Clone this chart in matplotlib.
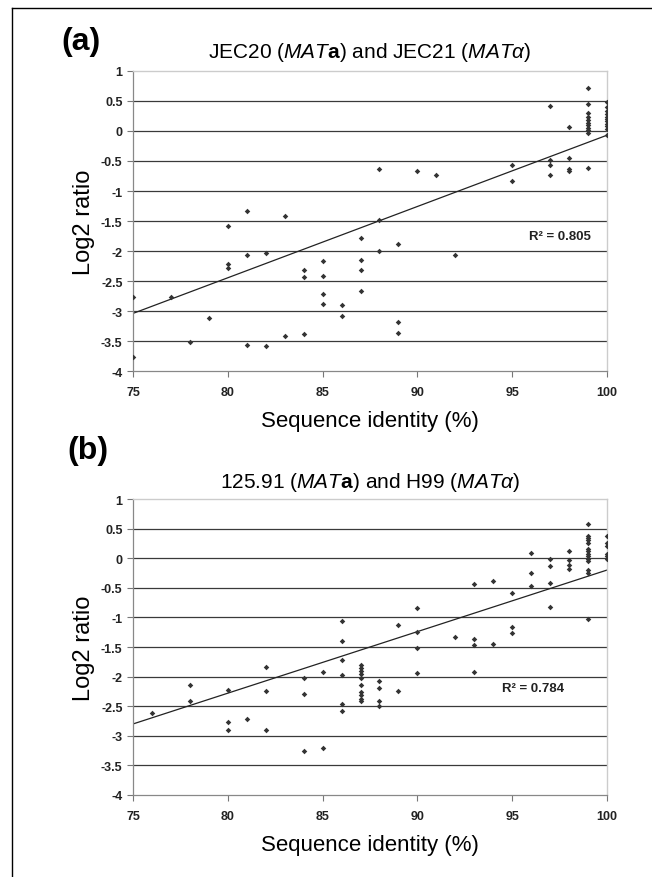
import numpy as np
import matplotlib

matplotlib.use("Agg")
import matplotlib.pyplot as plt
from matplotlib.lines import Line2D

plt.rcParams["font.family"] = ["Liberation Sans", "DejaVu Sans"]
plt.rcParams["mathtext.fontset"] = "custom"
plt.rcParams["mathtext.rm"] = "Liberation Sans"
plt.rcParams["mathtext.it"] = "Liberation Sans:italic"
plt.rcParams["mathtext.bf"] = "Liberation Sans:bold"

# ---- panel (a): JEC20 vs JEC21 ----
a_x = [75, 75, 77, 78, 79,
       80, 80, 80, 81, 81, 81, 82, 82, 83, 83,
       84, 84, 84, 85, 85, 85, 85, 86, 86,
       87, 87, 87, 87, 88, 88, 88, 89, 89, 89,
       90, 91, 92, 95, 95,
       97, 97, 97, 97, 98, 98, 98, 98,
       99, 99, 99, 99, 99, 99, 99, 99, 99, 99, 99,
       100, 100, 100, 100, 100, 100, 100, 100, 100, 100, 100]
a_y = [-2.77, -3.77, -2.77, -3.51, -3.12,
       -1.59, -2.21, -2.29, -1.33, -2.06, -3.57, -2.04, -3.58, -1.41, -3.41,
       -2.32, -2.44, -3.38, -2.16, -2.42, -2.72, -2.89, -2.90, -3.09,
       -1.79, -2.15, -2.32, -2.67, -0.63, -1.49, -2.00, -1.88, -3.19, -3.36,
       -0.67, -0.73, -2.06, -0.57, -0.83,
       0.42, -0.49, -0.57, -0.73, 0.06, -0.45, -0.64, -0.67,
       0.71, 0.45, 0.30, 0.24, 0.19, 0.14, 0.10, 0.05, 0.02, -0.04, -0.61,
       0.48, 0.40, 0.33, 0.28, 0.24, 0.20, 0.16, 0.12, 0.08, 0.03, -0.07]
a_fit = [-3.04, -0.07]   # trend line value at x=75 and x=100
a_r2 = "R² = 0.805"

# ---- panel (b): 125.91 vs H99 ----
b_x = [76, 78, 78, 80, 80, 80, 81, 82, 82, 82, 84, 84, 84, 85, 85,
       86, 86, 86, 86, 86, 86,
       87, 87, 87, 87, 87, 87, 87, 87, 87, 87,
       88, 88, 88, 88, 89, 89, 90, 90, 90, 90,
       92, 93, 93, 93, 93, 94, 94, 95, 95, 95,
       96, 96, 96, 97, 97, 97, 97, 98, 98, 98, 98,
       99, 99, 99, 99, 99, 99, 99, 99, 99, 99, 99, 99, 99, 99,
       100, 100, 100, 100, 100, 100]
b_y = [-2.61, -2.14, -2.42, -2.22, -2.77, -2.91, -2.71, -1.84, -2.24, -2.91,
       -2.03, -2.30, -3.26, -1.93, -3.21,
       -1.06, -1.40, -1.72, -1.98, -2.47, -2.58,
       -1.81, -1.86, -1.91, -1.96, -2.03, -2.15, -2.26, -2.31, -2.37, -2.41,
       -2.08, -2.19, -2.42, -2.49, -1.13, -2.25, -0.84, -1.25, -1.52, -1.94,
       -1.33, -0.44, -1.36, -1.46, -1.92, -0.38, -1.45, -0.59, -1.17, -1.26,
       0.09, -0.25, -0.47, -0.01, -0.13, -0.42, -0.83, 0.12, -0.03, -0.11, -0.18,
       0.57, 0.38, 0.34, 0.30, 0.25, 0.16, 0.12, 0.07, 0.03, -0.01, -0.05,
       -0.20, -0.25, -1.03,
       0.37, 0.25, 0.21, 0.07, 0.03, -0.02]
b_fit = [-2.80, -0.20]
b_r2 = "R² = 0.784"

x_ticks = [75, 80, 85, 90, 95, 100]
y_ticks = [1, 0.5, 0, -0.5, -1, -1.5, -2, -2.5, -3, -3.5, -4]


def draw_panel(ax, xs, ys, fit, r2, r2_pos):
    for v in y_ticks[1:-1]:
        ax.axhline(v, color="#3a3a3a", lw=0.9, zorder=1)
    ax.scatter(xs, ys, s=8, marker="D", color="#333333", zorder=3, linewidths=0)
    ax.plot([75, 100], fit, color="#222222", lw=0.9, zorder=2)
    ax.text(r2_pos[0], r2_pos[1], r2, fontsize=9.5, fontweight="bold",
            ha="center", va="center", color="#222222")
    ax.set_xlim(75, 100)
    ax.set_ylim(-4, 1)
    ax.set_xticks(x_ticks)
    ax.set_yticks(y_ticks)
    ax.set_yticklabels([f"{v:g}" for v in y_ticks])
    ax.tick_params(axis="both", labelsize=9, length=4, width=0.8,
                   color="#777777", direction="out", pad=3.5)
    ax.tick_params(axis="x", pad=6.5)
    for lab in ax.get_xticklabels() + ax.get_yticklabels():
        lab.set_fontweight("bold")
        lab.set_color("#222222")
    for side in ["top", "right"]:
        ax.spines[side].set_color("#cccccc")
        ax.spines[side].set_linewidth(1.0)
    for side in ["left", "bottom"]:
        ax.spines[side].set_color("#888888")
        ax.spines[side].set_linewidth(0.9)
    ax.set_xlabel("Sequence identity (%)", fontsize=16, labelpad=9)
    ax.set_ylabel("Log2 ratio", fontsize=17, labelpad=4)


fig = plt.figure(figsize=(6.52, 8.78), dpi=100)
ax_a = fig.add_axes([0.204, 0.5763, 0.727, 0.3417])
ax_b = fig.add_axes([0.204, 0.0934, 0.727, 0.3371])

draw_panel(ax_a, a_x, a_y, a_fit, a_r2, (97.5, -1.75))
draw_panel(ax_b, b_x, b_y, b_fit, b_r2, (96.1, -2.2))

ax_a.set_title(r"JEC20 ($\mathit{MAT}\mathbf{a}$) and JEC21 ($\mathit{MAT}\alpha$)",
               fontsize=15, pad=10)
ax_b.set_title(r"125.91 ($\mathit{MAT}\mathbf{a}$) and H99 ($\mathit{MAT}\alpha$)",
               fontsize=15, pad=9)

fig.text(0.094, 0.952, "(a)", fontsize=23, fontweight="bold", va="center")
fig.text(0.103, 0.486, "(b)", fontsize=23, fontweight="bold", va="center")

# page frame (top and left edge)
fig.add_artist(Line2D([0.0184, 1.0], [0.9897, 0.9897], color="black", lw=1.0))
fig.add_artist(Line2D([0.0184, 0.0184], [0.0, 0.9897], color="black", lw=1.0))

fig.savefig("out.png", dpi=100)
